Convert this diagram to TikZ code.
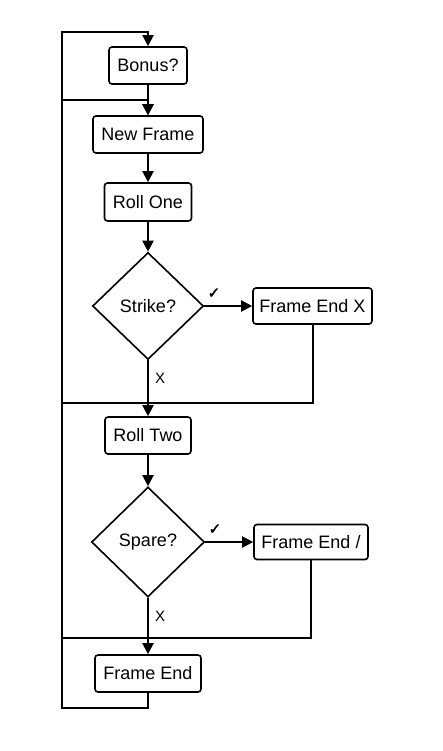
\documentclass[tikz,border=0pt]{standalone}
\usepackage{fontspec}
\setmainfont{Liberation Sans}
\newfontfamily\symfont[FakeBold=2]{DejaVu Sans}
\usetikzlibrary{shapes.geometric,arrows.meta}
\begin{document}
\begin{tikzpicture}[x=1pt,y=-1pt,
  boxnode/.style={draw,line width=1.6pt,rounded corners=3pt,inner sep=0pt,font=\fontsize{18}{21}\selectfont},
  decnode/.style={draw,diamond,line width=1.6pt,inner sep=0pt,font=\fontsize{18}{21}\selectfont},
  conn/.style={line width=2pt},
  arr/.style={conn,-{Triangle[length=11pt,width=11pt]}},
  lbl/.style={font=\fontsize{15}{17}\selectfont,inner sep=0pt},
  chk/.style={font=\symfont\fontsize{15}{17}\selectfont,inner sep=0pt}]
\useasboundingbox (0,0) rectangle (442,751);
\node[boxnode,minimum width=78pt,minimum height=37pt] (bonus) at (148,65.5) {Bonus?};
\node[boxnode,minimum width=110pt,minimum height=37pt] (nf) at (148,134.5) {New Frame};
\node[boxnode,minimum width=87pt,minimum height=38pt] (r1) at (148,202) {Roll One};
\node[decnode,minimum width=111pt,minimum height=107pt] (strike) at (148,306) {Strike?};
\node[boxnode,minimum width=119pt,minimum height=36pt] (fex) at (312.5,306) {Frame End X};
\node[boxnode,minimum width=86pt,minimum height=37pt] (r2) at (148,435.5) {Roll Two};
\node[decnode,minimum width=113pt,minimum height=110pt] (spare) at (148,542) {Spare?};
\node[boxnode,minimum width=114pt,minimum height=35pt] (fes) at (311,542) {Frame End /};
\node[boxnode,minimum width=106pt,minimum height=37pt] (fe) at (148,673.5) {Frame End};
\coordinate (bl) at (62,708);
\coordinate (tl) at (62,32);
\coordinate (tr) at (148,32);
\coordinate (m1) at (62,100);
\coordinate (m2) at (62,403);
\coordinate (m3) at (62,638);
% loop back
\draw[arr] (fe.south) |- (bl) -- (tl) -- (tr) -- (bonus.north);
\draw[arr] (bonus.south) -- (nf.north);
\draw[arr] (m1) -| (nf.north);
\draw[arr] (nf.south) -- (r1.north);
\draw[arr] (r1.south) -- (strike.north);
\draw[arr] (strike.east) -- node[chk,pos=0.2,above=7pt] (c1) {✓} (fex.west);
\draw[conn] (fex.south) |- (m2);
\draw[arr] (strike.south) -- node[lbl,pos=0.32,right=6pt] (x1) {X} (r2.north);
\draw[arr] (r2.south) -- (spare.north);
\draw[arr] (spare.east) -- node[chk,pos=0.2,above=7pt] (c2) {✓} (fes.west);
\draw[conn] (fes.south) |- (m3);
\draw[arr] (spare.south) -- node[lbl,pos=0.32,right=6pt] (x2) {X} (fe.north);
\end{tikzpicture}
\end{document}
